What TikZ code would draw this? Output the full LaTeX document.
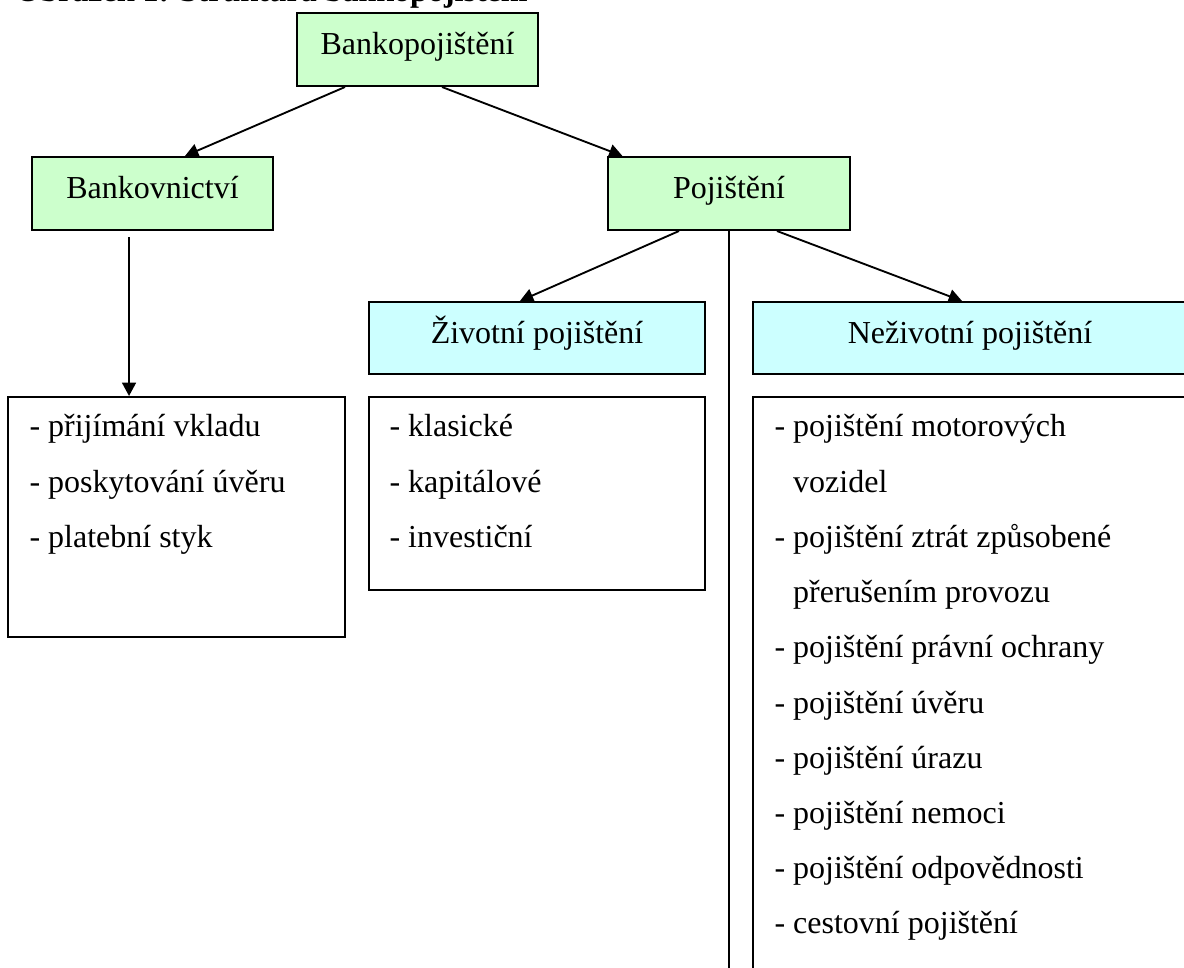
\documentclass[tikz,border=0pt]{standalone}
\usepackage{fontspec}
\setmainfont{Liberation Serif}
\usetikzlibrary{arrows.meta}
\definecolor{headgreen}{RGB}{204,255,204}
\definecolor{subcyan}{RGB}{204,255,255}

\begin{document}
\begin{tikzpicture}[x=0.375pt, y=-0.375pt,
    every node/.style={font=\fontsize{12}{14.4}\selectfont},
    headbox/.style={draw, line width=0.75pt, fill=headgreen, minimum width=90.4pt,
      minimum height=27.4pt, inner sep=0pt, text height=8.6pt, text depth=4.5pt},
    subbox/.style={headbox, fill=subcyan, minimum height=27pt},
    listbox/.style={draw, line width=0.75pt, fill=white, inner sep=0pt},
    item/.style={anchor=base west, inner sep=0pt},
    link/.style={line width=0.7pt, -{Triangle[length=5pt,width=5.2pt]}}]

  % page frame
  \useasboundingbox (0,0) rectangle (1184,968);
  \clip (0,0) rectangle (1184,968);

  % caption, cut off at the top edge
  \node[item, font=\bfseries\fontsize{12}{14.4}\selectfont] (caption) at (15,2)
    {Obrázek 1: Struktura bankopojištění};

  % head boxes
  \node[headbox] (bankins) at (417.5,49.5) {Bankopojištění};
  \node[headbox] (banking) at (152.5,193.5) {Bankovnictví};
  \node[headbox] (insur) at (729,193.5) {Pojištění};
  \node[subbox, minimum width=126pt] (life) at (537,338) {Životní pojištění};
  \node[subbox, minimum width=162.75pt] (nonlife) at (970,338) {Neživotní pojištění};

  % list boxes
  \node[listbox, minimum width=126.4pt, minimum height=90pt] (bankinglist) at (176.5,517) {};
  \node[listbox, minimum width=126pt, minimum height=72.4pt] (lifelist) at (537,493.5) {};
  \node[listbox, minimum width=162.75pt, minimum height=226pt] (nonlifelist) at (970,698.5) {};

  % list items
  \foreach \txt [count=\i] in {přijímání vkladu, poskytování úvěru, platební styk}
    \node[item] (bankingitem\i) at (29,{437+55.2*(\i-1)}) {- \txt};
  \foreach \txt [count=\i] in {klasické, kapitálové, investiční}
    \node[item] (lifeitem\i) at (389,{437+55.2*(\i-1)}) {- \txt};
  \foreach \txt [count=\i] in {- pojištění motorových, \hphantom{-} vozidel,
      - pojištění ztrát způsobené, \hphantom{-} přerušením provozu,
      - pojištění právní ochrany, - pojištění úvěru, - pojištění úrazu,
      - pojištění nemoci, - pojištění odpovědnosti, - cestovní pojištění}
    \node[item] (nonlifeitem\i) at (774,{437+55.2*(\i-1)}) {\txt};

  % connectors
  \draw[link] ([xshift=-27.2pt]bankins.south) -- ([xshift=12.2pt]banking.north);
  \draw[link] ([xshift=9.2pt]bankins.south) -- ([xshift=5.6pt]insur.north west);
  \draw[link] ([xshift=-18.75pt]insur.south) -- ([xshift=-6.4pt]life.north);
  \draw[link] ([xshift=18pt]insur.south) -- ([xshift=-3pt]nonlife.north);
  \coordinate (bankingdrop) at ([xshift=-8.8pt,yshift=-2.25pt]banking.south);
  \draw[link] (bankingdrop) -- (bankingdrop |- bankinglist.north);
  \coordinate (pagefoot) at (729,975);
  \draw[line width=0.75pt] (insur.south) -- (insur.south |- pagefoot);
\end{tikzpicture}
\end{document}
